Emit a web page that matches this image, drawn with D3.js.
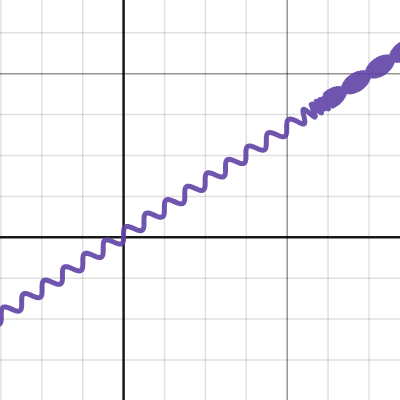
<!DOCTYPE html>
<html>
<head>
<meta charset="utf-8">
<script src="https://cdn.jsdelivr.net/npm/d3@7"></script>
<style>
  html, body { margin: 0; padding: 0; background: #fff; }
  svg { display: block; }
</style>
</head>
<body>
<div id="graph"></div>
<script>
// Viewport of the graph (math units)
const xDomain = [-1.511, 3.379];
const yDomain = [-1.989, 2.901];

// Grid spacing
const gridSteps = [0.5, 2]; // minor, major

// Curve: a sine wave running along a tilted line, that speeds up on the right
const baseLine = [0.658, 0.025];          // slope, intercept
const waveAmps = [0.074, 0.088];          // offset from the line: slow part, fast part
const waveNumbers = [21.06, 266];         // start, top speed (rad per unit along line)
const chirp = [2.537, 8, 6];              // where it starts, growth rate, gain
const beads = [3.928, 0.351];             // pinch position along line, bead length
const sRange = [-1.9, 4.15];              // parameter range along the line
const sampleStep = 1 / 81.8;              // one pixel, like a plotter would sample

const width = 400, height = 400;

const svg = d3.select("#graph")
  .append("svg")
  .attr("width", width)
  .attr("height", height);

const x = d3.scaleLinear().domain(xDomain).range([0, width]);
const y = d3.scaleLinear().domain(yDomain).range([height, 0]);

// Grid lines
function ticksOf(domain, step) {
  return d3.range(Math.ceil(domain[0] / step) * step, domain[1], step)
    .map(v => Math.round(v / step) * step);
}

const minorX = ticksOf(xDomain, gridSteps[0]).filter(v => v % gridSteps[1] !== 0);
const minorY = ticksOf(yDomain, gridSteps[0]).filter(v => v % gridSteps[1] !== 0);
const majorX = ticksOf(xDomain, gridSteps[1]).filter(v => v !== 0);
const majorY = ticksOf(yDomain, gridSteps[1]).filter(v => v !== 0);

const grid = svg.append("g");

grid.selectAll(".minor-x")
  .data(minorX)
  .enter().append("line")
  .attr("x1", d => x(d)).attr("x2", d => x(d))
  .attr("y1", 0).attr("y2", height)
  .attr("stroke", "#000").attr("stroke-opacity", 0.12).attr("stroke-width", 1.5);

grid.selectAll(".minor-y")
  .data(minorY)
  .enter().append("line")
  .attr("y1", d => y(d)).attr("y2", d => y(d))
  .attr("x1", 0).attr("x2", width)
  .attr("stroke", "#000").attr("stroke-opacity", 0.12).attr("stroke-width", 1.5);

grid.selectAll(".major-x")
  .data(majorX)
  .enter().append("line")
  .attr("x1", d => x(d)).attr("x2", d => x(d))
  .attr("y1", 0).attr("y2", height)
  .attr("stroke", "#000").attr("stroke-opacity", 0.42).attr("stroke-width", 1.5);

grid.selectAll(".major-y")
  .data(majorY)
  .enter().append("line")
  .attr("y1", d => y(d)).attr("y2", d => y(d))
  .attr("x1", 0).attr("x2", width)
  .attr("stroke", "#000").attr("stroke-opacity", 0.42).attr("stroke-width", 1.5);

// Axes
svg.append("line")
  .attr("x1", x(0)).attr("x2", x(0))
  .attr("y1", 0).attr("y2", height)
  .attr("stroke", "#000").attr("stroke-opacity", 0.9).attr("stroke-width", 2.5);

svg.append("line")
  .attr("y1", y(0)).attr("y2", y(0))
  .attr("x1", 0).attr("x2", width)
  .attr("stroke", "#000").attr("stroke-opacity", 0.9).attr("stroke-width", 2.5);

// Build the curve samples
const theta = Math.atan(baseLine[0]);
const ux = Math.cos(theta), uy = Math.sin(theta);
const nx = -Math.sin(theta), ny = Math.cos(theta);

function extraWave(s) {
  if (s < chirp[0]) return 0;
  return chirp[2] * Math.exp(chirp[1] * (s - chirp[0]));
}
// where the wave reaches top speed
const sTop = chirp[0] + Math.log((waveNumbers[1] - waveNumbers[0]) / chirp[2]) / chirp[1];

function ampAt(s) {
  const t = Math.max(0, Math.min(1, (s - chirp[0]) / (sTop - chirp[0])));
  return waveAmps[0] + (waveAmps[1] - waveAmps[0]) * t;
}

const points = [];
let phase = waveNumbers[0] * sRange[0];
let n = 0;
for (let s = sRange[0]; s <= sRange[1]; s = sRange[0] + (++n) * sampleStep) {
  let off = ampAt(s) * Math.sin(phase);
  if (s >= sTop) {
    // past top speed the samples alternate and drift slowly: the beads
    const env = Math.sin(Math.PI * (s - beads[0]) / beads[1]);
    off = ampAt(s) * (n % 2 ? 1 : -1) * Math.sign(env) * Math.sqrt(Math.abs(env));
  }
  points.push([s * ux + off * nx, baseLine[1] + s * uy + off * ny]);
  phase += Math.min(waveNumbers[1], waveNumbers[0] + extraWave(s + sampleStep / 2)) * sampleStep;
}

const line = d3.line()
  .x(d => x(d[0]))
  .y(d => y(d[1]));

svg.append("path")
  .datum(points)
  .attr("d", line)
  .attr("fill", "none")
  .attr("stroke", "#6042a6")
  .attr("stroke-opacity", 0.9)
  .attr("stroke-width", 5)
  .attr("stroke-linejoin", "round")
  .attr("stroke-linecap", "round");
</script>
</body>
</html>
